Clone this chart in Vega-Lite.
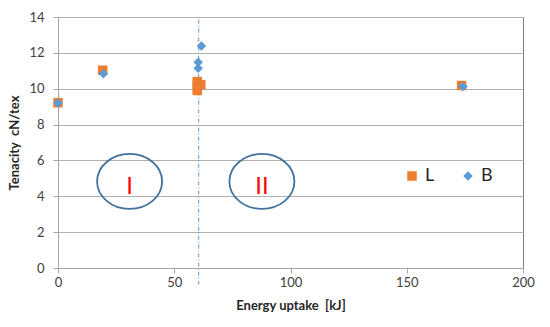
{
  "$schema": "https://vega.github.io/schema/vega-lite/v6.json",
  "autosize": {"type": "none"},
  "padding": {"left": 58, "top": 17, "right": 27, "bottom": 59},
  "width": 465,
  "height": 251,
  "background": "white",
  "config": {
    "view": {"stroke": "#7F7F7F", "strokeWidth": 1},
    "font": "Lato",
    "axisX": {
      "grid": false,
      "labelFlush": false,
      "labelOverlap": false,
      "domainColor": "#A6A6A6",
      "tickColor": "#A6A6A6",
      "tickSize": 5,
      "labelFontSize": 13,
      "labelColor": "#404040",
      "labelPadding": 3,
      "titleFontSize": 13,
      "titleFontWeight": "bold",
      "titleColor": "#262626",
      "titlePadding": 10
    },
    "axisY": {
      "grid": true,
      "gridColor": "#B0B0B0",
      "gridWidth": 1,
      "labelFlush": false,
      "labelOverlap": false,
      "domainColor": "#A6A6A6",
      "tickColor": "#A6A6A6",
      "tickSize": 5,
      "labelFontSize": 13,
      "labelColor": "#404040",
      "labelPadding": 9,
      "titleFontSize": 13,
      "titleFontWeight": "bold",
      "titleColor": "#262626",
      "titlePadding": 7
    }
  },
  "layer": [
    {
      "data": {"values": [{"x": 60.5, "y1": 13.85, "y2": -1.05}]},
      "mark": {"type": "rule", "color": "#5B9BD5", "strokeWidth": 1, "strokeDash": [4, 2, 1, 2]},
      "encoding": {
        "x": {"field": "x", "type": "quantitative", "scale": {"domain": [0, 200], "nice": false}, "axis": {"title": "Energy uptake \u00a0[kJ]", "values": [0, 50, 100, 150, 200]}},
        "y": {"field": "y1", "type": "quantitative", "scale": {"domain": [0, 14], "nice": false}, "axis": {"title": "Tenacity \u00a0cN/tex", "values": [0, 2, 4, 6, 8, 10, 12, 14]}},
        "y2": {"field": "y2"}
      }
    },
    {
      "data": {"values": [
        {"series": "L", "energy": 0, "tenacity": 9.22},
        {"series": "L", "energy": 19.2, "tenacity": 11.03},
        {"series": "L", "energy": 59.9, "tenacity": 10.4},
        {"series": "L", "energy": 59.9, "tenacity": 10.15},
        {"series": "L", "energy": 59.9, "tenacity": 9.9},
        {"series": "L", "energy": 61.4, "tenacity": 10.22},
        {"series": "L", "energy": 173.6, "tenacity": 10.18},
        {"series": "B", "energy": 0, "tenacity": 9.2},
        {"series": "B", "energy": 19.5, "tenacity": 10.83},
        {"series": "B", "energy": 60.3, "tenacity": 11.47},
        {"series": "B", "energy": 60.3, "tenacity": 11.14},
        {"series": "B", "energy": 61.7, "tenacity": 12.38},
        {"series": "B", "energy": 174.2, "tenacity": 10.13}
      ]},
      "mark": {"type": "point", "filled": true, "opacity": 1, "size": 90},
      "encoding": {
        "x": {"field": "energy", "type": "quantitative", "axis": {"title": "Energy uptake \u00a0[kJ]", "values": [0, 50, 100, 150, 200]}},
        "y": {"field": "tenacity", "type": "quantitative", "axis": {"title": "Tenacity \u00a0cN/tex", "values": [0, 2, 4, 6, 8, 10, 12, 14]}},
        "color": {
          "field": "series", "type": "nominal",
          "scale": {"domain": ["L", "B"], "range": ["#ED7D31", "#5B9BD5"]},
          "legend": {
            "title": null,
            "orient": "none",
            "direction": "horizontal",
            "legendX": 345,
            "legendY": 150,
            "labelFontSize": 18,
            "labelColor": "#262626",
            "symbolSize": 90,
            "symbolOpacity": 1,
            "columnPadding": 24,
            "labelOffset": 4
          }
        },
        "shape": {
          "field": "series", "type": "nominal",
          "scale": {"domain": ["L", "B"], "range": ["square", "diamond"]},
          "legend": null
        }
      }
    },
    {
      "data": {"values": [
        {"cx": 30.8, "cy": 4.83, "label": "I"},
        {"cx": 87.7, "cy": 4.83, "label": "II"}
      ]},
      "layer": [
        {
          "mark": {
            "type": "point",
            "shape": "M-1,0A1,0.846,0,1,0,1,0A1,0.846,0,1,0,-1,0Z",
            "size": 4225,
            "filled": false,
            "stroke": "#41719C",
            "strokeWidth": 1.8,
            "opacity": 1
          },
          "encoding": {
            "x": {"field": "cx", "type": "quantitative", "axis": {"title": "Energy uptake \u00a0[kJ]", "values": [0, 50, 100, 150, 200]}},
            "y": {"field": "cy", "type": "quantitative", "axis": {"title": "Tenacity \u00a0cN/tex", "values": [0, 2, 4, 6, 8, 10, 12, 14]}}
          }
        },
        {
          "mark": {
            "type": "text",
            "color": "#FF0000",
            "fontSize": 24,
            "font": "Liberation Sans",
            "baseline": "middle",
            "align": "center"
          },
          "encoding": {
            "x": {"field": "cx", "type": "quantitative", "axis": {"title": "Energy uptake \u00a0[kJ]", "values": [0, 50, 100, 150, 200]}},
            "y": {"value": 170},
            "text": {"field": "label"}
          }
        }
      ]
    }
  ]
}
